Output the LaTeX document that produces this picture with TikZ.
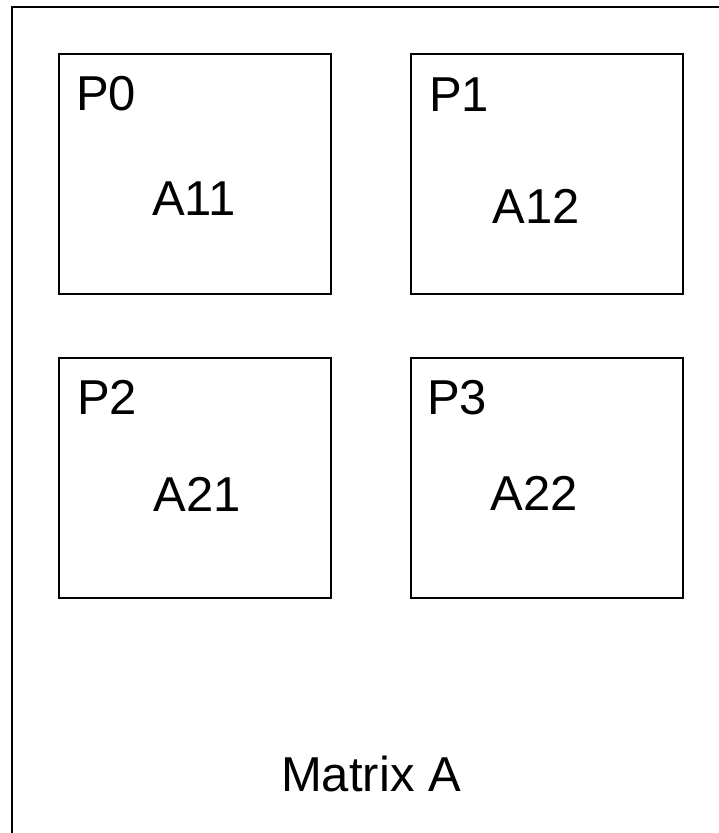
\documentclass[tikz,border=0pt]{standalone}
\usepackage{fontspec}
\setmainfont{Liberation Sans}
\begin{document}
\begin{tikzpicture}[x=1pt,y=-1pt,
  frame/.style={draw=black,line width=2pt},
  part/.style={draw=black,line width=2pt,minimum width=272pt,minimum height=240pt,inner sep=0pt},
  lbl/.style={inner sep=0pt,font=\fontsize{49}{49}\selectfont,anchor=base west},
  ctr/.style={inner sep=0pt,font=\fontsize{49}{49}\selectfont,anchor=base}]
\useasboundingbox (0,0) rectangle (719,833);
\clip (0,0) rectangle (719,833);
\fill[white] (0,0) rectangle (719,833);
\node[frame,inner sep=0pt,minimum width=725pt,minimum height=850pt,anchor=north west] (outer) at (10.5,5.5) {};
\node[part] (b0) at (194.5,173.5) {};
\node[part] (b1) at (547,173.5) {};
\node[part] (b2) at (194.5,477.5) {};
\node[part] (b3) at (547,477.5) {};
\node[lbl] (p0) at (76,110) {P0};
\node[lbl] (p1) at (429,111) {P1};
\node[lbl] (p2) at (77,414) {P2};
\node[lbl] (p3) at (427,414) {P3};
\node[ctr] (a11) at (194,215) {A11};
\node[ctr] (a12) at (536,223) {A12};
\node[ctr] (a21) at (197,511) {A21};
\node[ctr] (a22) at (534,510) {A22};
\node[ctr] (mat) at (371,791) {Matrix A};
\end{tikzpicture}
\end{document}
